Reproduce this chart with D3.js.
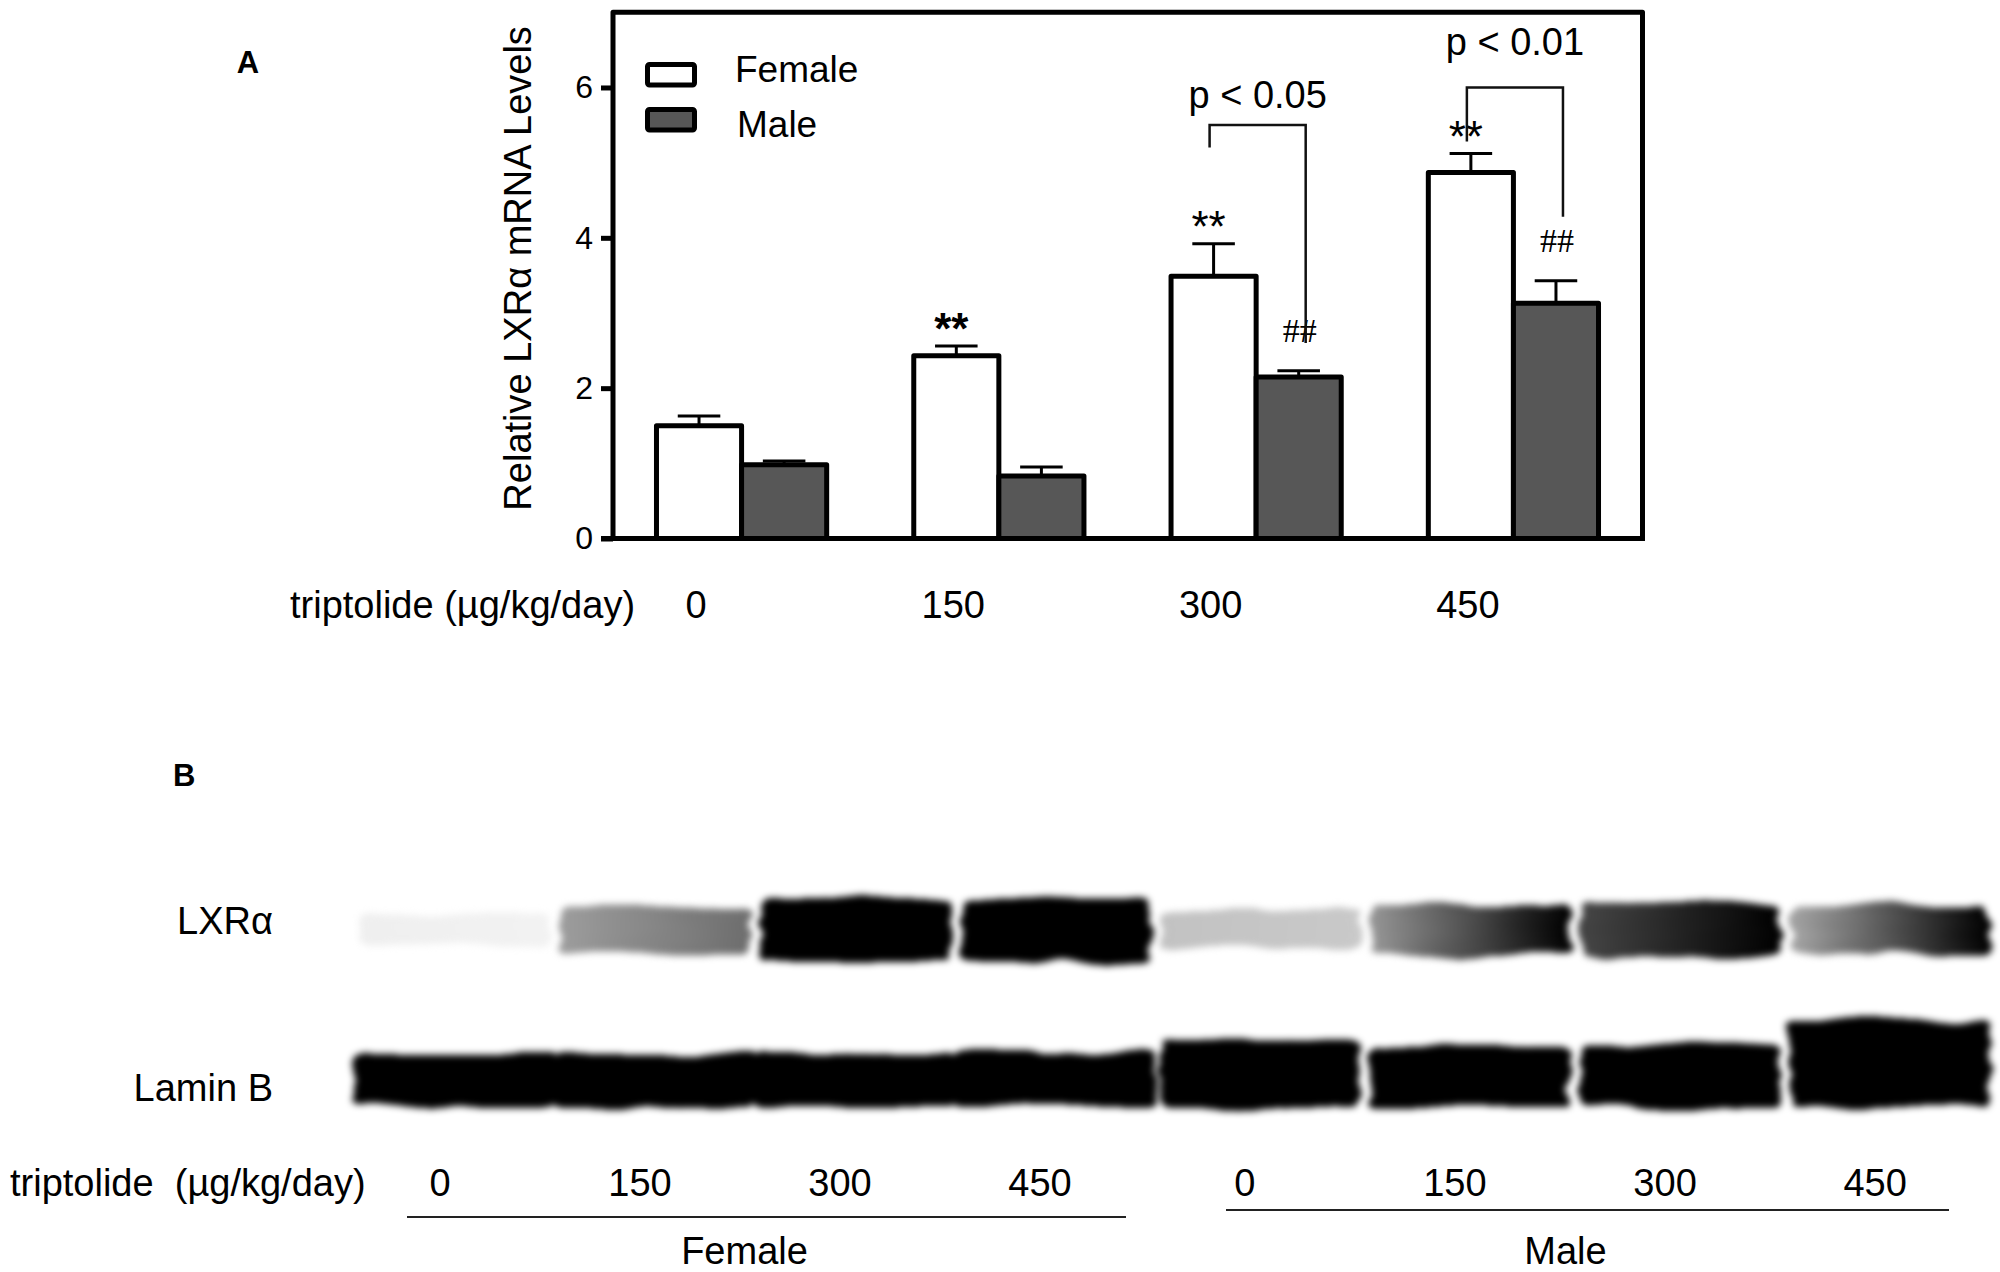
<!DOCTYPE html>
<html>
<head>
<meta charset="utf-8">
<script src="https://cdn.jsdelivr.net/npm/d3@7"></script>
<style>
  body { margin: 0; background: #fff; }
  text { font-family: "Liberation Sans", Arial, sans-serif; fill: #000; }
</style>
</head>
<body>
<div id="chart"></div>
<script>
// 柱状图数据 (panel A)
const doses = ["0", "150", "300", "450"];
const sexes = ["Female", "Male"];
const femaleMean = [1.50, 2.43, 3.49, 4.87];
const femaleSem = [0.13, 0.13, 0.43, 0.25];
const maleMean = [0.98, 0.83, 2.15, 3.13];
const maleSem = [0.05, 0.12, 0.08, 0.30];
const yTicks = [0, 2, 4, 6];
const femaleMarks = ["", "**", "**", "**"];
const maleMarks = ["", "", "##", "##"];
const brackets = [
    { dose: "300", label: "p < 0.05", level: 5.5, labelLevel: 5.73, leftTo: 5.2, rightTo: 2.6 },
    { dose: "450", label: "p < 0.01", level: 6.0, labelLevel: 6.43, leftTo: 5.28, rightTo: 4.28 }
];

// 印迹数据 (panel B): band signal per lane, [left, right]
const blotRows = ["LXRα", "Lamin B"];
const lxrFemale = [[0.12, 0.1], [0.48, 0.65], [1.2, 1.2], [1.2, 1.15]];
const lxrMale = [[0.35, 0.32], [0.5, 1.1], [0.78, 1.0], [0.45, 1.1]];
const laminFemale = [[1.4, 1.4], [1.4, 1.4], [1.4, 1.4], [1.4, 1.4]];
const laminMale = [[1.62, 1.62], [1.5, 1.5], [1.52, 1.52], [1.95, 1.95]];

const width = 2000, height = 1272;
const svg = d3.select("#chart").append("svg")
    .attr("width", width)
    .attr("height", height);
const defs = svg.append("defs");

// ---------- Panel A ----------
const x0 = d3.scaleBand().domain(doses).range([613, 1642]).paddingInner(0.3385).paddingOuter(0.169);
const x1 = d3.scaleBand().domain(sexes).range([0, x0.bandwidth()]);
const y = d3.scaleLinear().domain([0, 7]).range([538.5, 12.3]);

svg.append("text").attr("x", 248).attr("y", 73).attr("text-anchor", "middle")
    .attr("font-size", 31).attr("font-weight", "bold").text("A");

const rows = doses.map((d, i) => ([
    { dose: d, sex: "Female", mean: femaleMean[i], sem: femaleSem[i], mark: femaleMarks[i] },
    { dose: d, sex: "Male", mean: maleMean[i], sem: maleSem[i], mark: maleMarks[i] }
])).flat();

const bx = d => x0(d.dose) + x1(d.sex);
const cx = d => bx(d) + x1.bandwidth() / 2;

// bars
svg.append("g").selectAll("rect")
    .data(rows)
    .join("rect")
    .attr("x", bx)
    .attr("y", d => y(d.mean))
    .attr("width", x1.bandwidth())
    .attr("height", d => y(0) - y(d.mean))
    .attr("fill", d => d.sex === "Female" ? "#fff" : "#575757")
    .attr("stroke", "#000")
    .attr("stroke-width", 5)
    .attr("stroke-linejoin", "round");

// error bars (upper only)
const err = svg.append("g").attr("stroke", "#000").attr("stroke-width", 3);
err.selectAll("line.v").data(rows).join("line").attr("class", "v")
    .attr("x1", cx).attr("x2", cx)
    .attr("y1", d => y(d.mean)).attr("y2", d => y(d.mean + d.sem));
err.selectAll("line.h").data(rows).join("line").attr("class", "h")
    .attr("x1", d => cx(d) - x1.bandwidth() / 4).attr("x2", d => cx(d) + x1.bandwidth() / 4)
    .attr("y1", d => y(d.mean + d.sem)).attr("y2", d => y(d.mean + d.sem));

// significance marks
svg.append("g").selectAll("text")
    .data(rows.filter(d => d.mark))
    .join("text")
    .attr("x", d => cx(d) - (d.sex === "Female" ? 5 : -1))
    .attr("y", d => d.mark === "##"
        ? y(d.mean + d.sem) - 52 + 23
        : y(d.mean + d.sem) - 34 + 32)
    .attr("text-anchor", "middle")
    .attr("font-size", d => d.mark === "##" ? 34 : 44)
    .attr("font-weight", d => d.dose === "150" ? "bold" : "normal")
    .style("font-family", d => d.mark === "##" ? "'Liberation Serif', serif" : null)
    .text(d => d.mark);

// brackets
const br = svg.append("g");
brackets.forEach(b => {
    const xl = x0(b.dose) + x1("Female") + x1.bandwidth() / 2 - 4;
    const xr = x0(b.dose) + x1("Male") + x1.bandwidth() / 2 + 7;
    br.append("path")
        .attr("d", `M${xl},${y(b.leftTo)}V${y(b.level)}H${xr}V${y(b.rightTo)}`)
        .attr("fill", "none").attr("stroke", "#111").attr("stroke-width", 2.5);
    br.append("text")
        .attr("x", (xl + xr) / 2).attr("y", y(b.labelLevel))
        .attr("text-anchor", "middle").attr("font-size", 38)
        .text(b.label);
});

// axes and frame
const yAxis = svg.append("g")
    .attr("transform", "translate(613,0)")
    .call(d3.axisLeft(y).tickValues(yTicks).tickFormat(d3.format("d")).tickSize(12).tickPadding(8));
yAxis.select(".domain").remove();
yAxis.selectAll(".tick line").attr("stroke", "#000").attr("stroke-width", 5);
yAxis.selectAll(".tick text")
    .attr("font-size", 32)
    .style("font-family", "'Liberation Sans', Arial, sans-serif");

svg.append("path")
    .attr("d", `M613,${y(0)}V${y(7)}H1642.5V${y(0)}`)
    .attr("fill", "none").attr("stroke", "#000").attr("stroke-width", 5)
    .attr("stroke-linejoin", "round");
svg.append("line")
    .attr("x1", 601).attr("x2", 1645)
    .attr("y1", y(0)).attr("y2", y(0))
    .attr("stroke", "#000").attr("stroke-width", 5);

svg.append("text")
    .attr("transform", `translate(531,${(y(0) + y(7)) / 2 - 7}) rotate(-90)`)
    .attr("text-anchor", "middle").attr("font-size", 38)
    .text("Relative LXRα mRNA Levels");

// legend
const legend = svg.append("g").selectAll("g")
    .data(sexes)
    .join("g")
    .attr("transform", (d, i) => `translate(0,${i * 45})`);
legend.append("rect")
    .attr("x", 647.5).attr("y", 64.5).attr("width", 47).attr("height", 20.5).attr("rx", 2)
    .attr("fill", d => d === "Female" ? "#fff" : "#575757")
    .attr("stroke", "#000").attr("stroke-width", 5);
legend.append("text")
    .attr("x", (d, i) => 735 + i * 2).attr("y", (d, i) => 82 + i * 10)
    .attr("font-size", 37)
    .text(d => d);

// x category labels
svg.append("text").attr("x", 290).attr("y", 618).attr("font-size", 38)
    .text("triptolide (µg/kg/day)");
svg.append("g").selectAll("text")
    .data(doses)
    .join("text")
    .attr("x", d => x0(d) + x1("Female") + x1.bandwidth() / 2 - 3)
    .attr("y", 618)
    .attr("text-anchor", "middle")
    .attr("font-size", 38)
    .text(d => d);

// ---------- Panel B ----------
svg.append("text").attr("x", 173).attr("y", 786)
    .attr("font-size", 31).attr("font-weight", "bold").text("B");

// 模糊 + 扭曲滤镜, gives the bands ragged soft edges
const blot = defs.append("filter").attr("id", "blot")
    .attr("filterUnits", "userSpaceOnUse")
    .attr("x", 300).attr("y", 840).attr("width", 1700).attr("height", 300)
    .attr("color-interpolation-filters", "sRGB");
blot.append("feTurbulence")
    .attr("type", "fractalNoise").attr("baseFrequency", "0.012 0.05")
    .attr("numOctaves", 2).attr("seed", 7).attr("result", "noise");
blot.append("feDisplacementMap")
    .attr("in", "SourceGraphic").attr("in2", "noise")
    .attr("scale", 16).attr("xChannelSelector", "R").attr("yChannelSelector", "G")
    .attr("result", "warp");
blot.append("feGaussianBlur").attr("in", "warp").attr("stdDeviation", 3.5);

const laneF = d3.scaleBand().domain(doses).range([360, 1150]).paddingInner(0.05);
const laneM = d3.scaleBand().domain(doses).range([1160, 1990]).paddingInner(0.05);
const tone = v => d3.interpolateGreys(Math.min(1, v));
const lxrH = d3.scaleLinear().domain([0, 1.2]).range([28, 64]);
const laminH = d3.scaleLinear().domain([1.4, 2]).range([55, 92]);

const bands = [];
[["Female", laneF, lxrFemale, laminFemale], ["Male", laneM, lxrMale, laminMale]].forEach(([sex, lane, lxr, lam]) => {
    doses.forEach((d, i) => {
        bands.push({ sex, row: "LXRα", lane, dose: d, v: lxr[i] });
        bands.push({ sex, row: "Lamin B", lane, dose: d, v: lam[i] });
    });
});

bands.forEach((b, i) => {
    const g = defs.append("linearGradient").attr("id", "band" + i);
    g.append("stop").attr("offset", "0%").attr("stop-color", tone(b.v[0]));
    g.append("stop").attr("offset", "100%").attr("stop-color", tone(b.v[1]));
});

svg.append("g")
    .attr("filter", "url(#blot)")
    .selectAll("rect")
    .data(bands)
    .join("rect")
    .attr("x", b => b.row === "Lamin B" && b.sex === "Female"
        ? b.lane(b.dose) - b.lane.step() * 0.03 : b.lane(b.dose))
    .attr("width", b => b.row === "Lamin B" && b.sex === "Female"
        ? b.lane.step() + 2 : b.lane.bandwidth())
    .attr("y", b => {
        const m = (b.v[0] + b.v[1]) / 2;
        return b.row === "LXRα" ? 930 - lxrH(m) / 2 : 1108 - laminH(m);
    })
    .attr("height", b => {
        const m = (b.v[0] + b.v[1]) / 2;
        return b.row === "LXRα" ? lxrH(m) : laminH(m);
    })
    .attr("rx", 8)
    .attr("fill", (b, i) => `url(#band${i})`);

// blot row labels
svg.append("g").selectAll("text")
    .data(blotRows)
    .join("text")
    .attr("x", 273)
    .attr("y", (d, i) => i === 0 ? 934 : 1101)
    .attr("text-anchor", "end")
    .attr("font-size", 38)
    .text(d => d);

// lane labels
svg.append("text").attr("x", 10).attr("y", 1196).attr("font-size", 38)
    .attr("xml:space", "preserve")
    .text("triptolide  (µg/kg/day)");
[laneF, laneM].forEach(lane => {
    svg.append("g").selectAll("text")
        .data(doses)
        .join("text")
        .attr("x", d => lane(d) + lane.bandwidth() / 2 - 15)
        .attr("y", 1196)
        .attr("text-anchor", "middle")
        .attr("font-size", 38)
        .text(d => d);
});

// group lines + labels
const groups = [
    { name: "Female", x1: 407, x2: 1126, y: 1217 },
    { name: "Male", x1: 1226, x2: 1949, y: 1210 }
];
svg.append("g").selectAll("line")
    .data(groups)
    .join("line")
    .attr("x1", d => d.x1).attr("x2", d => d.x2)
    .attr("y1", d => d.y).attr("y2", d => d.y)
    .attr("stroke", "#222").attr("stroke-width", 2);
svg.append("g").selectAll("text")
    .data(groups)
    .join("text")
    .attr("x", d => (d.x1 + d.x2) / 2 - 22)
    .attr("y", 1264)
    .attr("text-anchor", "middle")
    .attr("font-size", 38)
    .text(d => d.name);
</script>
</body>
</html>
